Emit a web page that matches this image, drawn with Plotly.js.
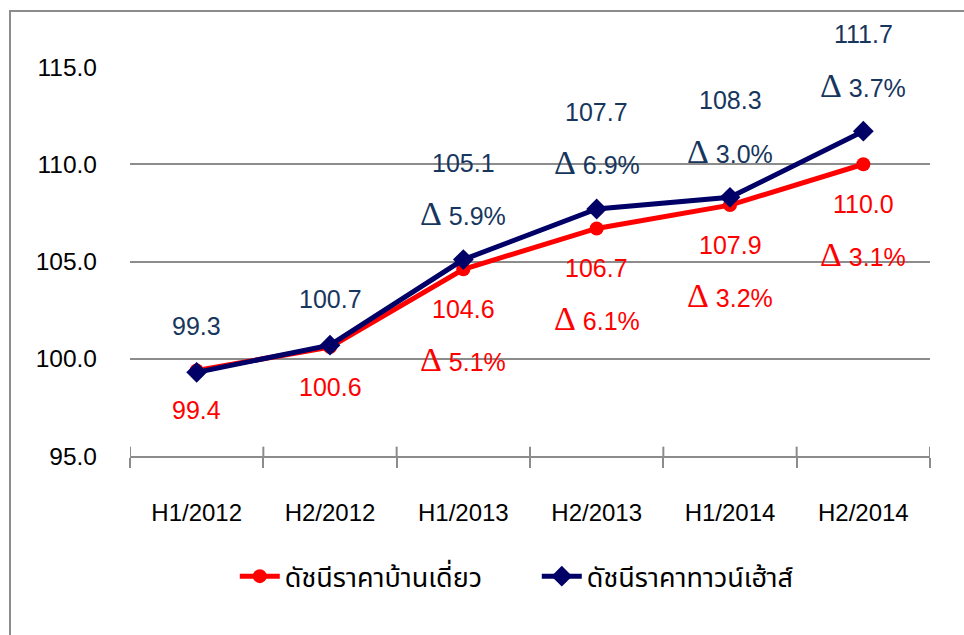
<!DOCTYPE html>
<html>
<head>
<meta charset="utf-8">
<script src="https://cdn.plot.ly/plotly-3.0.1.min.js"></script>
<style>
  html, body { margin: 0; padding: 0; background: #fff; overflow: hidden; }
  #wrap { position: relative; width: 964px; height: 635px; }
  #chart { width: 964px; height: 635px; }
  #frame { position: absolute; left: 9px; top: 10px; width: 1000px; height: 1000px;
           border-left: 2px solid #8c8c8c; border-top: 2px solid #8c8c8c; pointer-events: none; }
</style>
</head>
<body>
<div id="wrap"><div id="chart"></div><div id="frame"></div></div>
<script>
const categories = ['H1/2012', 'H2/2012', 'H1/2013', 'H2/2013', 'H1/2014', 'H2/2014'];
const singleHouseName = 'ดัชนีราคาบ้านเดี่ยว';
const townHouseName = 'ดัชนีราคาทาวน์เฮ้าส์';
const singleHouse = [99.4, 100.6, 104.6, 106.7, 107.9, 110.0];
const townHouse = [99.3, 100.7, 105.1, 107.7, 108.3, 111.7];
const singleHouseChange = [null, null, 5.1, 6.1, 3.2, 3.1];
const townHouseChange = [null, null, 5.9, 6.9, 3.0, 3.7];
const yTicks = [95, 100, 105, 110, 115];

const RED = '#FF0000';
const NAVY = '#000066';
const NAVY_TXT = '#17365D';
const GRID = '#8c8c8c';
const SANS = 'Liberation Sans, Arial, sans-serif';
const THAI = 'Tahoma, Noto Sans Thai, Loma, Garuda, Noto Sans, sans-serif';

function deltaText(v) {
  return '<span style="font-family:Liberation Serif;font-size:34px">Δ</span> ' + v.toFixed(1) + '%';
}

const annotations = [];
categories.forEach((c, i) => {
  annotations.push({x: c, y: singleHouse[i], text: singleHouse[i].toFixed(1), showarrow: false,
    yshift: -40, font: {family: SANS, size: 25, color: RED}, xanchor: 'center', yanchor: 'middle'});
  if (singleHouseChange[i] !== null) {
    annotations.push({x: c, y: singleHouse[i], text: deltaText(singleHouseChange[i]), showarrow: false,
      yshift: -90, font: {family: SANS, size: 25, color: RED}, xanchor: 'center', yanchor: 'middle'});
  }
  const hasDelta = townHouseChange[i] !== null;
  annotations.push({x: c, y: townHouse[i], text: townHouse[i].toFixed(1), showarrow: false,
    yshift: hasDelta ? 97 : 46, font: {family: SANS, size: 25, color: NAVY_TXT}, xanchor: 'center', yanchor: 'middle'});
  if (hasDelta) {
    annotations.push({x: c, y: townHouse[i], text: deltaText(townHouseChange[i]), showarrow: false,
      yshift: 46, font: {family: SANS, size: 25, color: NAVY_TXT}, xanchor: 'center', yanchor: 'middle'});
  }
});

const shapes = [];
for (let k = 0; k <= categories.length; k++) {
  shapes.push({type: 'line', xref: 'x', yref: 'y', x0: k - 0.5, x1: k - 0.5, y0: 95, y1: 95.48,
    line: {color: GRID, width: 2}});
}

const traces = [
  {x: categories, y: singleHouse, name: singleHouseName, type: 'scatter', mode: 'lines+markers',
   line: {color: RED, width: 5}, marker: {symbol: 'circle', size: 14, color: RED}, cliponaxis: false},
  {x: categories, y: townHouse, name: townHouseName, type: 'scatter', mode: 'lines+markers',
   line: {color: NAVY, width: 5}, marker: {symbol: 'diamond', size: 16, color: NAVY}, cliponaxis: false}
];

const layout = {
  width: 964, height: 635,
  margin: {l: 130, r: 34, t: 67, b: 179},
  paper_bgcolor: '#fff', plot_bgcolor: '#fff',
  showlegend: true,
  legend: {orientation: 'h', x: 0.131, xanchor: 'left', y: -0.31, yanchor: 'middle',
           font: {family: THAI, size: 27, color: '#000'}, itemwidth: 40, entrywidth: 247, traceorder: 'normal'},
  xaxis: {type: 'category', range: [-0.5, 5.5], showgrid: false, zeroline: false,
          showline: true, linecolor: GRID, linewidth: 2,
          ticks: 'outside', ticklen: 10, tickwidth: 2, tickcolor: GRID, tickson: 'boundaries',
          ticklabelstandoff: 34, tickfont: {family: SANS, size: 24, color: '#000'}},
  yaxis: {range: [95, 115], tickvals: yTicks, tickformat: '.1f', showgrid: true, gridcolor: GRID, gridwidth: 2,
          zeroline: false, showline: false, ticks: '', ticklabelstandoff: 32,
          tickfont: {family: SANS, size: 24.5, color: '#000'}},
  annotations: annotations,
  shapes: shapes
};

Plotly.newPlot('chart', traces, layout, {displayModeBar: false, staticPlot: true});
</script>
</body>
</html>
